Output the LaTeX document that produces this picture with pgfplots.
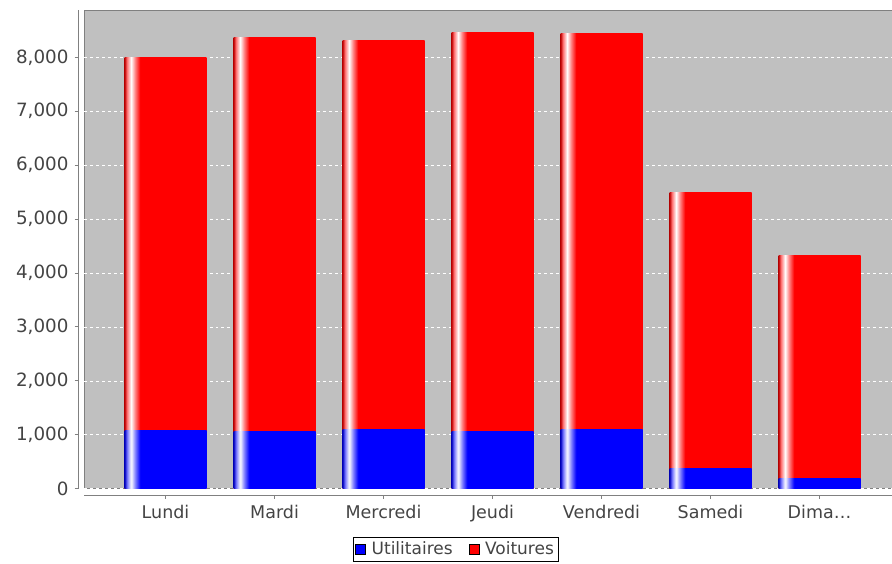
\documentclass[border=0pt]{standalone}
\usepackage{pgfplots}
\pgfplotsset{compat=1.18}
\usepackage{fontspec}
\setmainfont{DejaVu Sans}

\definecolor{plotbg}{RGB}{192,192,192}
\definecolor{txt}{RGB}{68,68,68}
\definecolor{axisgray}{RGB}{128,128,128}

% bar shading: thin light stripe near the left edge (middle 25bp..75bp maps to the bar)
\pgfdeclarehorizontalshading{redbar}{100bp}{color(0bp)=(red!75!black); color(25bp)=(red!75!black);
  color(26.5bp)=(red!55!white); color(29bp)=(white); color(31.5bp)=(red!50!white);
  color(34.5bp)=(red); color(100bp)=(red)}
\pgfdeclarehorizontalshading{bluebar}{100bp}{color(0bp)=(blue!75!black); color(25bp)=(blue!75!black);
  color(26.5bp)=(blue!55!white); color(29bp)=(white); color(31.5bp)=(blue!50!white);
  color(34.5bp)=(blue); color(100bp)=(blue)}

% total = utilitaires + voitures
\pgfplotstableread{
x utilitaires voitures total
0 1083 6908 7991
1 1065 7297 8362
2 1102 7212 8314
3 1052 7403 8455
4 1096 7353 8449
5 373  5113 5486
6 187  4130 4317
}\jours

\begin{document}
\fontsize{17.5bp}{20bp}\selectfont
\begin{tikzpicture}
\path[use as bounding box] (0,0) rectangle (892bp,564bp);
\begin{axis}[
  at={(84bp,75.5bp)}, anchor=south west,
  scale only axis, width=808bp, height=478.5bp,
  xmin=-0.748, xmax=6.665,
  ymin=0, ymax=8878,
  xtick={0,...,6},
  xticklabels={Lundi,Mardi,Mercredi,Jeudi,Vendredi,Samedi,Dima\dots},
  ytick={0,1000,...,8000},
  axis lines*=left,
  axis x line shift=6.5bp,
  axis y line shift=5.5bp,
  axis line style={draw=axisgray, thick},
  axis background/.style={fill=plotbg, draw=axisgray},
  tick align=outside,
  major tick length=4bp,
  tick style={draw=axisgray, thick},
  ymajorgrids,
  grid style={white, dashed, thin},
  xticklabel style={text=txt, font=\fontsize{17.5bp}{20bp}\selectfont},
  yticklabel style={text=txt, font=\fontsize{18.3bp}{20bp}\selectfont},
  /pgf/number format/.cd, 1000 sep={,}, assume math mode=true,
  /pgfplots/.cd,
  legend style={at={(0.333,-0.101)}, anchor=north west, legend columns=2,
    draw=black, fill=white, text=txt, font=\fontsize{17bp}{19bp}\selectfont,
    inner xsep=2bp, inner ysep=2.5bp,
    /tikz/every even column/.append style={column sep=14bp},
    /tikz/every odd column/.append style={column sep=4bp}},
  legend image code/.code={\fill[#1] (0bp,-5bp) rectangle (10bp,5bp);},
  clip=false,
]
% one path per bar so that the shading fits each bar
\pgfplotsinvokeforeach{0,...,6}{
  \addplot[ybar, bar width=0.752, draw=none, shading=redbar, shading angle=0, forget plot,
    restrict x to domain=#1:#1] table[x=x, y=total] {\jours};
  \addplot[ybar, bar width=0.752, draw=none, shading=bluebar, shading angle=0, forget plot,
    restrict x to domain=#1:#1] table[x=x, y=utilitaires] {\jours};
}
\addlegendimage{fill=blue}
\addlegendentry{Utilitaires}
\addlegendimage{fill=red}
\addlegendentry{Voitures}
\end{axis}
\end{tikzpicture}
\end{document}
